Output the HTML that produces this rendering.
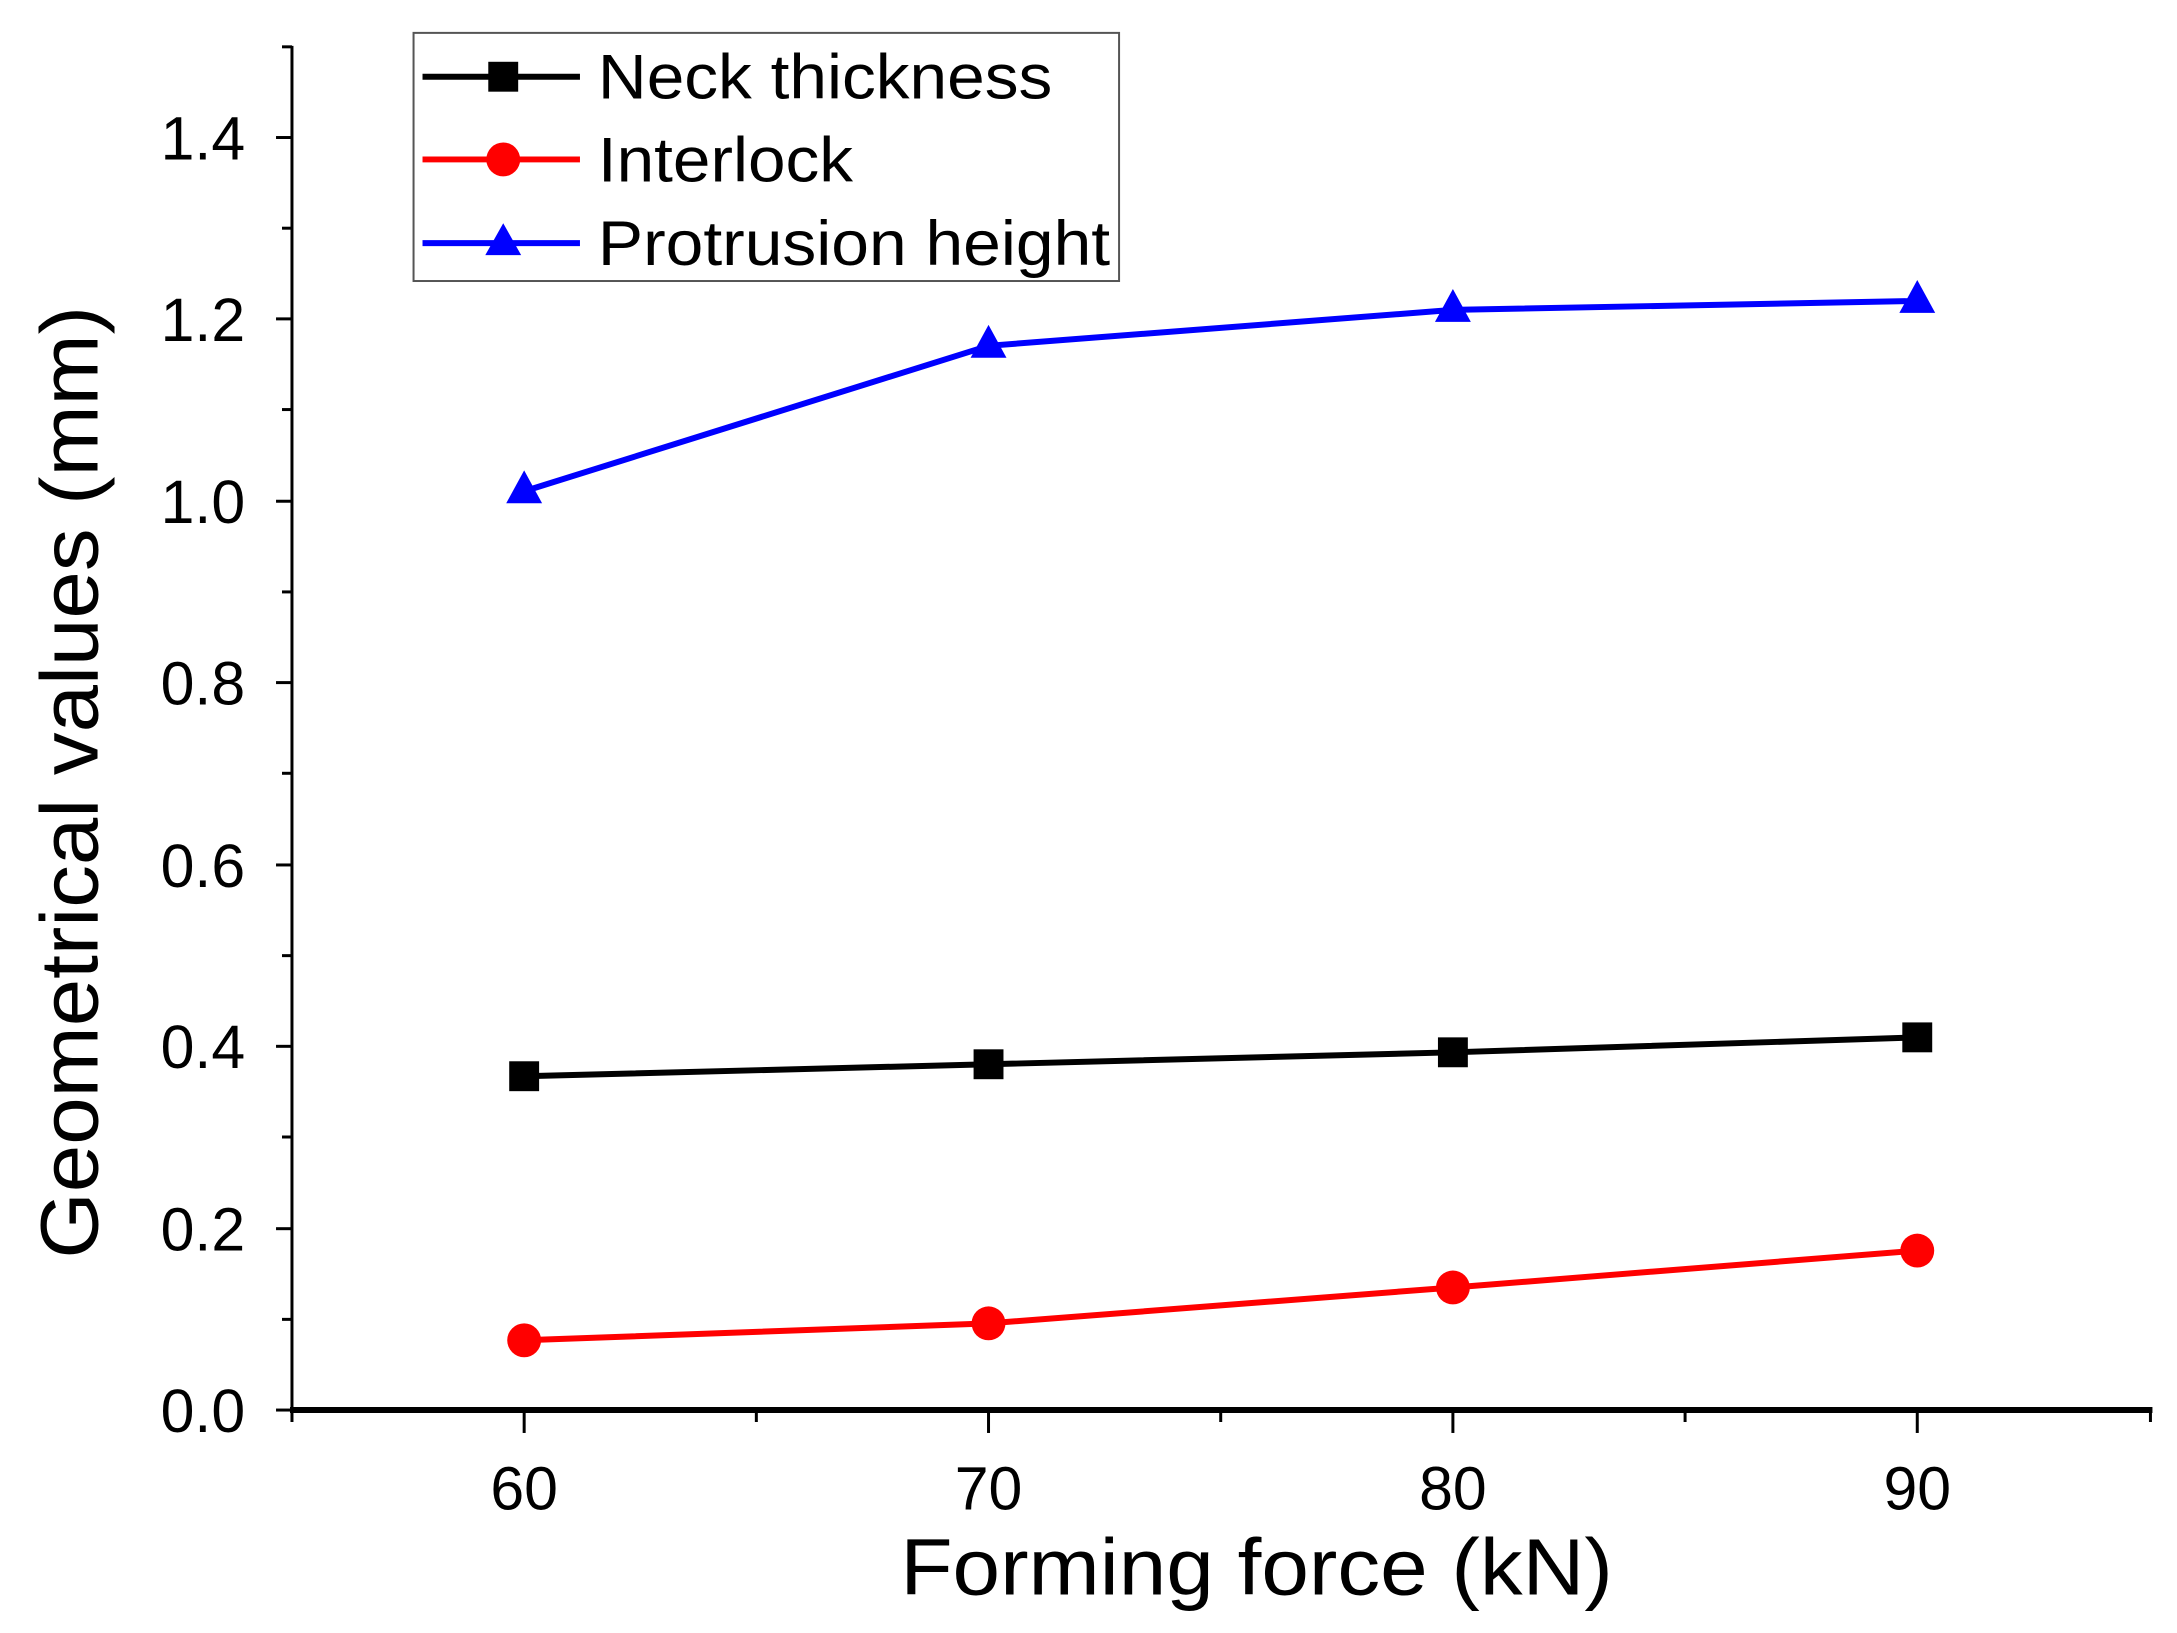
<!DOCTYPE html>
<html><head><style>body{margin:0;background:#fff}svg{display:block}</style></head><body>
<svg width="2177" height="1633" viewBox="0 0 2177 1633" xmlns="http://www.w3.org/2000/svg" font-family="Liberation Sans, sans-serif">
<rect width="2177" height="1633" fill="#fff"/>
<g transform="scale(0.9965)">
<line x1="293" y1="46" x2="293" y2="1417" stroke="#000" stroke-width="3"/>
<line x1="291" y1="1415" x2="2160" y2="1415" stroke="#000" stroke-width="6"/>
<g stroke="#000" stroke-width="3">
<line x1="277" y1="1415" x2="293" y2="1415"/><line x1="283" y1="1324" x2="293" y2="1324"/>
<line x1="277" y1="1233" x2="293" y2="1233"/><line x1="283" y1="1141" x2="293" y2="1141"/>
<line x1="277" y1="1050" x2="293" y2="1050"/><line x1="283" y1="959" x2="293" y2="959"/>
<line x1="277" y1="868" x2="293" y2="868"/><line x1="283" y1="776" x2="293" y2="776"/>
<line x1="277" y1="685" x2="293" y2="685"/><line x1="283" y1="594" x2="293" y2="594"/>
<line x1="277" y1="503" x2="293" y2="503"/><line x1="283" y1="411" x2="293" y2="411"/>
<line x1="277" y1="320" x2="293" y2="320"/><line x1="283" y1="229" x2="293" y2="229"/>
<line x1="277" y1="138" x2="293" y2="138"/><line x1="283" y1="47" x2="293" y2="47"/>
<line x1="293" y1="1415" x2="293" y2="1427"/><line x1="526" y1="1415" x2="526" y2="1438"/>
<line x1="759" y1="1415" x2="759" y2="1427"/><line x1="992" y1="1415" x2="992" y2="1438"/>
<line x1="1225" y1="1415" x2="1225" y2="1427"/><line x1="1458" y1="1415" x2="1458" y2="1438"/>
<line x1="1691" y1="1415" x2="1691" y2="1427"/><line x1="1924" y1="1415" x2="1924" y2="1438"/>
<line x1="2158" y1="1415" x2="2158" y2="1427"/>
</g>
<g font-size="61" text-anchor="end" fill="#000">
<text x="246" y="1437">0.0</text><text x="246" y="1255">0.2</text><text x="246" y="1072">0.4</text>
<text x="246" y="890">0.6</text><text x="246" y="707">0.8</text><text x="246" y="525">1.0</text>
<text x="246" y="342">1.2</text><text x="246" y="160">1.4</text>
</g>
<g font-size="61" text-anchor="middle" fill="#000">
<text x="526" y="1515">60</text><text x="992" y="1515">70</text><text x="1458" y="1515">80</text><text x="1924" y="1515">90</text>
</g>
<text x="1261" y="1600" font-size="80" text-anchor="middle" textLength="715" lengthAdjust="spacingAndGlyphs">Forming force (kN)</text>
<text transform="translate(98,785) rotate(-90)" font-size="82" text-anchor="middle" textLength="956" lengthAdjust="spacingAndGlyphs">Geometrical values (mm)</text>
<polyline points="526,493 992,347 1458,311 1924,302" fill="none" stroke="#00f" stroke-width="6"/>
<polyline points="526,1080 992,1068 1458,1056 1924,1041" fill="none" stroke="#000" stroke-width="6"/>
<polyline points="526,1345 992,1328 1458,1292 1924,1255" fill="none" stroke="#f00" stroke-width="6"/>
<g fill="#00f"><polygon points="526,472 508,505 544,505"/><polygon points="992,326 974,359 1010,359"/><polygon points="1458,290 1440,323 1476,323"/><polygon points="1924,281 1906,314 1942,314"/></g>
<g fill="#000"><rect x="511" y="1065" width="30" height="30"/><rect x="977" y="1053" width="30" height="30"/><rect x="1443" y="1041" width="30" height="30"/><rect x="1909" y="1026" width="30" height="30"/></g>
<g fill="#f00"><circle cx="526" cy="1345" r="17"/><circle cx="992" cy="1328" r="17"/><circle cx="1458" cy="1292" r="17"/><circle cx="1924" cy="1255" r="17"/></g>
<rect x="415" y="33" width="708" height="249" fill="#fff" stroke="#555" stroke-width="2"/>
<line x1="424" y1="77" x2="582" y2="77" stroke="#000" stroke-width="6"/><rect x="490" y="62" width="30" height="30" fill="#000"/>
<line x1="424" y1="160" x2="582" y2="160" stroke="#f00" stroke-width="6"/><circle cx="505" cy="160" r="17" fill="#f00"/>
<line x1="424" y1="244" x2="582" y2="244" stroke="#00f" stroke-width="6"/><polygon points="505,224 487,256 523,256" fill="#00f"/>
<g font-size="63" fill="#000">
<text x="600" y="99" textLength="456" lengthAdjust="spacingAndGlyphs">Neck thickness</text>
<text x="600" y="182" textLength="256" lengthAdjust="spacingAndGlyphs">Interlock</text>
<text x="600" y="266" textLength="514" lengthAdjust="spacingAndGlyphs">Protrusion height</text>
</g>
</g>
</svg>
</body></html>
